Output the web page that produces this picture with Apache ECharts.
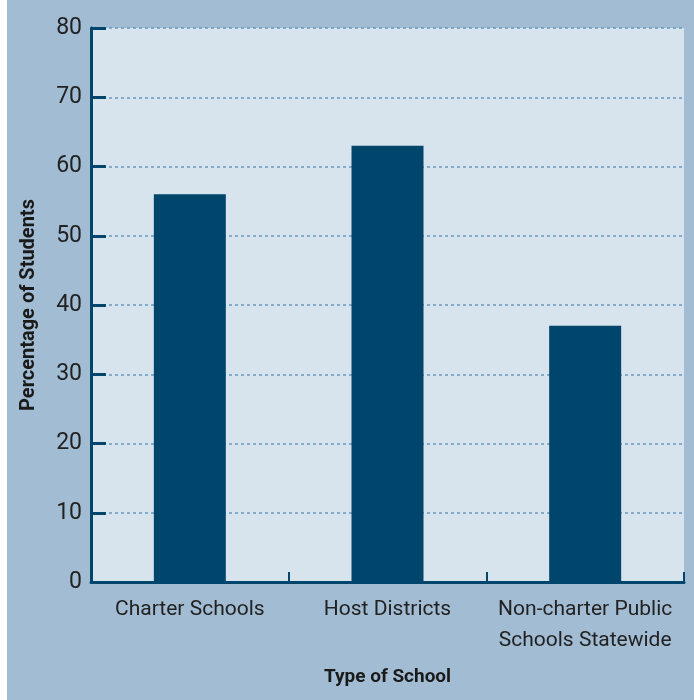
<!DOCTYPE html>
<html>
<head>
<meta charset="utf-8">
<script src="https://cdn.jsdelivr.net/npm/echarts@6/dist/echarts.min.js"></script>
<style>
  html, body { margin: 0; padding: 0; background: #ffffff; }
  #chart { width: 694px; height: 700px; }
</style>
</head>
<body>
<div id="chart"></div>
<script>
// data
var schoolTypes = ['Charter Schools', 'Host Districts', 'Non-charter Public\nSchools Statewide'];
var percentStudents = [56, 63, 37];

var navy = '#00466c';
var fontFam = '"Roboto", sans-serif';

var myChart = echarts.init(document.getElementById('chart'));

option = {
    backgroundColor: '#a2bcd3',
    // thin white margin at the left edge of the scan
    graphic: [
        { type: 'rect', left: 0, top: 0, shape: { width: 7, height: 700 }, style: { fill: '#ffffff' }, silent: true }
    ],
    grid: {
        left: 91, right: 10, top: 28, bottom: 118,
        show: true,
        backgroundColor: '#d8e4ed',
        borderWidth: 0
    },
    xAxis: {
        type: 'category',
        data: schoolTypes,
        name: 'Type of School',
        nameLocation: 'middle',
        nameGap: 86,
        nameTextStyle: { fontFamily: fontFam, fontSize: 19, fontWeight: 'bold', color: '#1a1a1a' },
        axisLine: { lineStyle: { color: navy, width: 3 } },
        axisTick: { show: true, inside: true, length: 10, lineStyle: { color: navy, width: 2 } },
        axisLabel: { fontFamily: fontFam, fontSize: 21, color: '#222', margin: 12, lineHeight: 31, interval: 0 }
    },
    yAxis: {
        type: 'value',
        min: 0, max: 80, interval: 10,
        name: 'Percentage of Students',
        nameLocation: 'middle',
        nameGap: 52,
        nameTextStyle: { fontFamily: fontFam, fontSize: 20, fontWeight: 'bold', color: '#1a1a1a' },
        axisLine: { show: true, lineStyle: { color: navy, width: 3 } },
        axisTick: { show: true, inside: true, length: 15, lineStyle: { color: navy, width: 3 } },
        axisLabel: { fontFamily: fontFam, fontSize: 23, color: '#222', margin: 9 },
        splitLine: { show: true, lineStyle: { color: '#6a98bf', type: [3, 3], width: 1.5 } }
    },
    series: [
        {
            name: 'Percentage of Students',
            type: 'bar',
            data: percentStudents,
            barWidth: 72,
            itemStyle: { color: navy }
        }
    ]
};

myChart.setOption(option, true);
</script>
</body>
</html>
